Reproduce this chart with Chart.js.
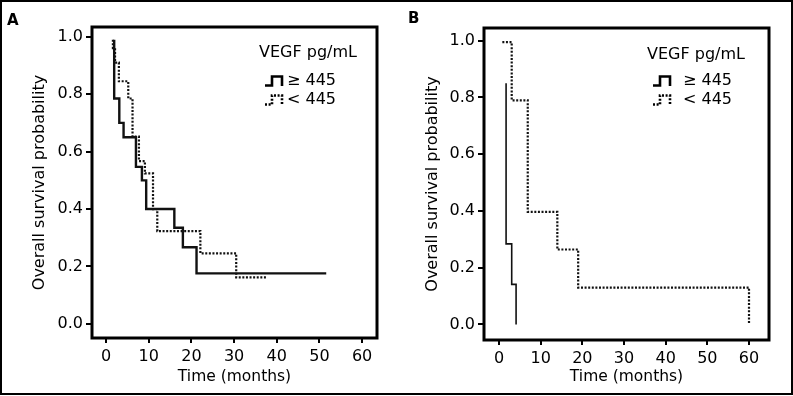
<!DOCTYPE html>
<html>
<head>
<meta charset="utf-8">
<script src="https://cdn.jsdelivr.net/npm/chart.js@4"></script>
<style>
  body { margin: 0; background: #fff; }
  #frame { position: absolute; left: 0; top: 0; width: 789px; height: 391px; border: 2px solid #000; }
  canvas { position: absolute; top: 0; }
  .panel { position: absolute; font: bold 15px "DejaVu Sans", sans-serif; color: #000; }
</style>
</head>
<body>
<div id="frame"></div>
<canvas id="chartA" width="396" height="394" style="left:0px"></canvas>
<canvas id="chartB" width="396" height="394" style="left:396px"></canvas>
<div class="panel" style="left:7px; top:11px">A</div>
<div class="panel" style="left:408px; top:9px">B</div>
<script>
// tick labels
const xTicks = [0, 10, 20, 30, 40, 50, 60]
const yTicks = [0, 0.2, 0.4, 0.6, 0.8, 1.0]

// panel A
const aHighTime = [1.9, 1.9, 3.1, 4.1, 7.0, 8.4, 9.4, 16.0, 18.0, 21.2, 51.6]
const aHighSurv = [0.99, 0.785, 0.70, 0.65, 0.547, 0.50, 0.40, 0.335, 0.267, 0.176, 0.176]
const aLowTime = [1.6, 1.6, 2.1, 3.0, 5.2, 6.2, 7.7, 9.1, 11.0, 12.0, 22.1, 30.5, 37.7]
const aLowSurv = [0.99, 0.96, 0.91, 0.845, 0.785, 0.652, 0.567, 0.524, 0.40, 0.323, 0.246, 0.162, 0.162]

// panel B
const bHighTime = [1.7, 1.7, 3.05, 4.1]
const bHighSurv = [0.85, 0.284, 0.141, 0]
const bLowTime = [0.8, 3.05, 6.9, 14.0, 19.0, 60]
const bLowSurv = [0.995, 0.79, 0.397, 0.264, 0.13, 0]

const legendTitle = 'VEGF pg/mL'
const legendLabels = ['\u2265 445', '< 445']

const FONT = '"DejaVu Sans", sans-serif'

function toPoints(times, surv) {
    return times.map((t, i) => ({ x: t, y: surv[i] }))
}

// thick box round the plot area
const boxPlugin = {
    id: 'box',
    afterDraw(chart) {
        const { ctx, chartArea } = chart
        ctx.save()
        ctx.strokeStyle = '#000'
        ctx.lineWidth = 3
        ctx.strokeRect(chartArea.left, chartArea.top, chartArea.right - chartArea.left, chartArea.bottom - chartArea.top)
        ctx.restore()
    }
}

// the little step icons of the legend
const stepLegend = {
    id: 'stepLegend',
    afterDraw(chart, args, opts) {
        const ctx = chart.ctx
        ctx.save()
        ctx.fillStyle = '#000'
        ctx.textBaseline = 'middle'
        ctx.font = '16px ' + FONT
        ctx.fillText(legendTitle, opts.titleX, opts.titleY)
        legendLabels.forEach((label, i) => {
            const y = opts.rowY[i]
            const x = opts.iconX
            ctx.strokeStyle = '#000'
            ctx.lineWidth = 2.6
            ctx.setLineDash(i === 0 ? [] : [2, 1.6])
            ctx.beginPath()
            ctx.moveTo(x, y + 4.5)
            ctx.lineTo(x + 7, y + 4.5)
            ctx.lineTo(x + 7, y - 4.5)
            ctx.lineTo(x + 17, y - 4.5)
            ctx.lineTo(x + 17, y + 5)
            ctx.stroke()
            ctx.setLineDash([])
            ctx.fillText(label, opts.textX, y)
        })
        ctx.restore()
    }
}

function makeChart(canvasId, high, low, cfg) {
    return new Chart(document.getElementById(canvasId), {
        type: 'line',
        data: {
            datasets: [{
                label: legendLabels[0],
                data: high,
                borderColor: '#111',
                borderWidth: cfg.solidWidth,
                stepped: true,
                pointRadius: 0,
                fill: false
            }, {
                label: legendLabels[1],
                data: low,
                borderColor: '#111',
                borderWidth: 2.2,
                borderDash: [2, 1.6],
                stepped: true,
                pointRadius: 0,
                fill: false
            }]
        },
        options: {
            responsive: false,
            animation: false,
            layout: { padding: { left: 0, right: cfg.right, top: cfg.top, bottom: 0 } },
            plugins: {
                legend: { display: false },
                tooltip: { enabled: false },
                stepLegend: cfg.legend
            },
            scales: {
                x: {
                    type: 'linear',
                    min: cfg.xMin,
                    max: cfg.xMax,
                    afterBuildTicks: (scale) => { scale.ticks = xTicks.map(v => ({ value: v })) },
                    afterFit: (scale) => { scale.height = cfg.xHeight },
                    grid: { drawOnChartArea: false, drawTicks: true, tickLength: 5, color: '#000', lineWidth: 2 },
                    border: { display: false },
                    ticks: { color: '#000', padding: 4, font: { family: FONT, size: 16 } },
                    title: { display: true, text: 'Time (months)', color: '#000', padding: { top: 0, bottom: 8 }, font: { family: FONT, size: 15.5 } }
                },
                y: {
                    min: cfg.yMin,
                    max: cfg.yMax,
                    afterBuildTicks: (scale) => { scale.ticks = yTicks.map(v => ({ value: v })) },
                    afterFit: (scale) => { scale.width = cfg.yWidth },
                    grid: { drawOnChartArea: false, drawTicks: true, tickLength: 6, color: '#000', lineWidth: 2 },
                    border: { display: false },
                    ticks: { color: '#000', padding: 3, font: { family: FONT, size: 16 }, callback: (v) => v.toFixed(1) },
                    title: { display: true, text: 'Overall survival probability', color: '#000', padding: { top: cfg.yTitlePad, bottom: 0 }, font: { family: FONT, size: 16 } }
                }
            }
        },
        plugins: [boxPlugin, stepLegend]
    })
}

makeChart('chartA', toPoints(aHighTime, aHighSurv), toPoints(aLowTime, aLowSurv), {
    solidWidth: 2.4, right: 19, top: 27, xHeight: 56, yWidth: 92, yTitlePad: 30,
    xMin: -3.3, xMax: 63.5, yMin: -0.049, yMax: 1.034,
    legend: { titleX: 259, titleY: 53, iconX: 265, textX: 287, rowY: [81, 100] }
})

makeChart('chartB', toPoints(bHighTime, bHighSurv), toPoints(bLowTime, bLowSurv), {
    solidWidth: 1.6, right: 23, top: 28, xHeight: 54, yWidth: 88, yTitlePad: 27,
    xMin: -3.6, xMax: 64.8, yMin: -0.055, yMax: 1.045,
    legend: { titleX: 251, titleY: 55, iconX: 257, textX: 287, rowY: [81, 100] }
})
</script>
</body>
</html>
